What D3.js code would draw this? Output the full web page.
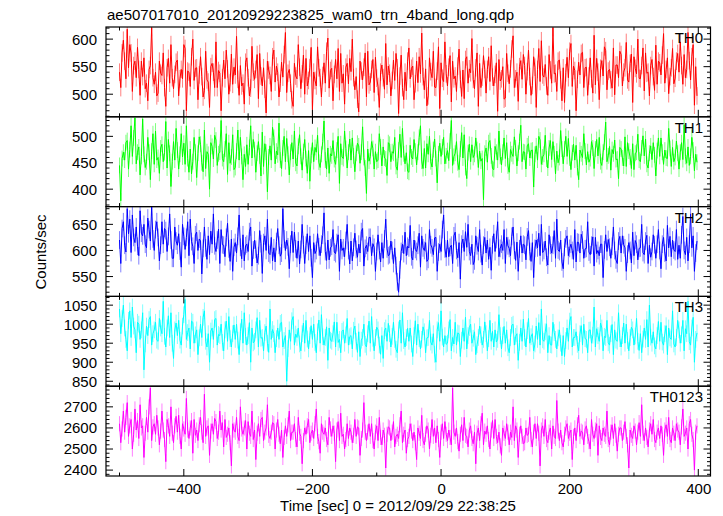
<!DOCTYPE html>
<html><head><meta charset="utf-8">
<script src="https://cdn.jsdelivr.net/npm/d3@7"></script>
<style>body{margin:0;background:#fff}</style>
</head><body>
<script>
const title = "ae507017010_20120929223825_wam0_trn_4band_long.qdp";
const xLabel = "Time [sec] 0 = 2012/09/29 22:38:25";
const yLabel = "Counts/sec";
const seriesNames = ["TH0", "TH1", "TH2", "TH3", "TH0123"];
const seriesColors = ["#ff0000", "#00ff00", "#0000ff", "#00ffff", "#ff00ff"];
const timeStart = -500, timeBin = 2;

const th0 = [540,512,575,598,560,528,618,548,590,575,505,552,560,530,585,
545,498,560,532,566,510,520,488,545,552,621,530,518,540,497,
502,560,538,534,575,512,478,548,565,520,590,530,510,536,558,
562,497,528,545,528,590,583,470,542,540,514,568,600,525,547,
548,490,535,568,532,495,507,578,526,522,476,550,556,540,512,
595,512,543,538,470,530,562,528,580,546,500,521,573,518,549,
535,605,527,498,552,515,520,482,558,566,530,497,511,587,540,
527,545,572,492,574,533,515,548,509,466,560,544,534,505,568,
580,522,551,540,495,520,558,531,572,612,503,538,545,520,490,
478,556,533,528,590,549,510,537,571,500,565,515,525,548,585,
472,540,525,515,586,548,530,495,534,557,520,578,602,511,543,
547,488,536,563,528,583,505,574,520,537,482,549,556,519,565,
541,600,530,508,532,491,468,560,542,526,549,575,495,578,517,
522,545,563,503,567,529,514,476,540,553,530,509,592,517,551,
538,497,525,562,525,574,548,465,533,571,512,490,540,506,560,
584,528,547,551,490,519,560,521,568,537,611,532,508,546,479,
497,566,541,530,578,513,512,542,586,474,557,529,523,595,537,
515,549,570,486,560,528,533,505,551,582,527,496,544,492,563,
568,520,546,539,601,527,510,548,575,478,556,512,531,570,545,
502,545,568,523,588,531,515,536,557,469,563,524,528,550,491,
493,574,538,519,546,582,606,512,528,540,487,550,561,527,572,
552,500,541,580,532,498,516,568,549,476,545,583,523,597,535,
531,554,515,498,572,544,520,621,537,538,505,560,562,526,488,
548,485,539,567,530,578,592,514,551,543,470,527,558,535,574,
576,512,548,549,498,533,566,528,502,607,517,565,540,490,547,
561,533,586,579,508,542,545,526,511,584,499,553,553,530,578,
572,515,540,548,594,526,522,556,573,485,568,547,537,600,529,
528,552,584,506,575,538,540,497,552,563,532,507,589,518,560,
557,535,571,610,520,545,566,501,532,548,583,519,529,560,574,
540,595,552,518,572,530,545,612,561,526,568,590,480,550,497];

const th1 = [445,378,458,470,455,488,492,438,475,520,462,497,535,448,470,
480,427,462,533,466,441,452,498,470,418,472,505,447,510,455,
460,430,478,485,452,469,528,440,494,468,405,452,490,455,515,
474,438,466,505,461,487,447,520,458,432,476,429,452,498,470,
422,468,499,485,450,433,512,439,471,466,400,488,481,457,502,
493,445,467,470,530,458,452,476,505,428,488,449,461,503,437,
441,472,512,455,498,462,418,466,443,484,447,479,520,459,494,
475,432,468,490,463,425,508,443,486,470,395,461,482,455,517,
498,448,472,465,525,455,439,478,500,452,496,466,427,470,488,
457,510,449,444,481,503,462,436,471,494,458,430,473,415,464,
488,452,479,470,502,451,441,466,490,529,455,438,478,430,467,
463,492,456,447,474,500,411,486,461,458,510,477,440,470,495,
455,497,463,433,468,487,482,449,470,518,460,440,392,476,453,
462,490,477,438,471,452,455,505,480,444,480,459,457,426,488,
485,452,471,468,498,443,436,474,504,460,515,467,448,469,434,
432,483,461,457,494,472,446,470,498,520,453,439,477,440,486,
466,500,452,442,475,495,458,412,467,487,462,480,498,448,463,
473,454,491,530,445,462,468,490,450,437,476,507,459,503,441,
420,469,485,452,484,460,466,497,475,441,472,453,458,380,468,
478,451,488,492,463,439,437,481,470,455,510,462,446,470,497,
458,488,444,432,475,467,462,499,478,444,468,490,521,452,471,
470,438,482,486,459,473,474,404,466,482,455,500,493,447,461,
466,502,457,440,478,492,456,490,467,429,472,450,460,511,476,
448,476,500,462,496,459,437,469,485,455,483,441,418,474,467,
460,505,472,446,471,451,458,490,478,439,476,494,463,498,452,
445,470,489,527,452,463,481,436,475,467,493,456,457,420,479,
476,459,444,499,443,488,472,461,439,486,437,468,470,504,455,
452,478,501,463,495,447,440,468,482,456,488,465,425,473,497,
462,497,470,447,474,459,458,515,477,443,479,452,460,491,468,
438,470,488,456,522,462,449,480,445,462,498,474,435,466,451];

const th2 = [620,575,642,655,610,597,680,632,660,596,668,625,615,645,608,
590,676,633,628,650,612,605,662,640,618,684,622,600,640,655,
625,580,610,655,612,642,638,598,627,670,620,585,585,645,618,
610,632,599,568,650,627,602,625,655,590,660,617,608,575,630,
635,600,622,618,555,604,645,605,583,628,592,637,612,670,609,
598,620,641,575,640,611,610,588,625,652,603,579,622,560,606,
615,595,627,668,606,584,630,580,609,612,598,636,645,570,601,
620,602,576,590,638,613,556,615,628,600,660,595,592,625,580,
605,578,617,642,610,589,595,680,622,600,620,607,565,612,637,
596,635,603,585,618,574,602,650,611,575,610,632,598,628,586,
548,615,594,600,632,607,590,612,629,672,598,581,620,582,605,
608,640,597,594,615,630,560,622,600,605,588,619,650,600,574,
618,580,606,633,602,587,612,595,636,642,570,604,610,598,625,
625,590,613,606,560,598,630,600,578,615,585,622,660,603,590,
592,618,600,575,605,571,540,520,563,598,612,594,635,590,608,
605,648,588,582,620,602,598,610,633,568,628,605,600,615,579,
583,640,611,605,592,624,625,560,597,612,598,640,668,603,587,
620,588,606,610,575,628,635,600,586,615,545,612,622,598,636,
606,650,598,590,612,573,580,628,609,598,640,594,572,610,625,
595,620,583,606,562,611,632,598,621,655,588,604,612,600,640,
575,625,609,604,590,627,645,600,581,616,560,603,628,595,612,
610,582,626,638,598,579,615,548,604,620,605,633,590,650,596,
600,618,587,572,630,610,595,610,638,585,660,601,598,620,578,
565,606,622,628,590,604,612,600,583,640,578,616,615,595,631,
620,585,603,604,655,597,592,610,626,570,625,594,600,590,612,
612,548,601,630,598,621,606,585,608,645,600,582,575,618,627,
595,628,611,605,560,593,615,600,576,635,590,619,612,582,604,
605,650,596,592,618,629,575,610,587,598,630,611,585,612,640,
600,565,612,625,595,580,648,605,627,588,620,601,598,640,583,
610,585,630,665,600,592,625,580,612,670,605,628,560,595,618];

const th3 = [1040,975,1015,1050,990,960,930,1010,1035,965,1045,995,985,925,1005,
1000,960,985,1030,880,948,995,970,1012,1020,945,975,985,1005,958,
955,1015,990,975,1060,968,940,990,1022,965,1030,950,910,985,1003,
970,1010,958,945,995,1025,1065,960,978,990,935,1008,1005,950,972,
985,920,964,1000,965,1018,1035,955,940,975,900,982,990,960,1012,
1015,945,973,970,1000,952,930,985,1008,955,1020,962,940,975,998,
960,1000,958,920,980,1013,950,1030,968,945,970,1004,900,990,951,
955,985,1017,940,1010,963,965,930,978,995,950,926,1040,960,986,
975,925,962,990,960,1002,1005,940,957,970,850,936,985,955,1009,
1020,945,974,965,990,948,930,975,1003,950,1010,961,935,970,996,
960,1000,952,925,980,1011,950,1025,967,945,965,993,905,990,958,
955,975,1006,940,1005,952,960,925,981,985,950,972,1015,945,967,
970,935,984,995,955,926,980,915,958,965,1000,947,940,975,1008,
950,1020,963,930,965,992,985,945,921,970,910,983,990,955,1002,
975,940,968,1005,960,934,925,985,1011,950,1030,957,940,965,989,
955,990,948,915,970,1009,945,1000,962,935,960,993,980,925,964,
965,1010,953,945,975,921,900,985,1004,955,1035,966,940,970,947,
950,985,1012,930,965,948,1005,945,977,975,915,958,990,955,1018,
935,970,991,1000,950,963,980,920,946,965,995,972,945,960,1006,
975,930,962,1010,955,981,940,985,953,960,1025,970,935,970,994,
950,985,938,925,965,997,1000,945,968,975,905,952,990,955,1013,
965,940,983,1015,950,967,975,930,948,995,960,1004,945,1040,959,
955,980,1001,925,970,946,945,1005,978,960,935,964,985,950,917,
970,915,957,990,955,1008,1020,940,965,965,980,947,930,975,996,
945,1000,962,960,925,984,985,950,971,1045,940,988,970,955,1003,
990,930,968,965,1010,951,945,975,999,920,985,958,955,1030,962,
940,970,1003,950,1000,957,930,965,992,985,945,969,1015,955,931,
975,925,961,990,960,1012,940,1050,966,950,980,943,935,970,1007,
955,1005,953,945,975,996,920,990,964,960,1035,948,940,965,1010,
985,950,972,1010,930,988,975,1060,954,945,990,1018,900,960,977];

const th0123 = [2620,2530,2595,2680,2580,2650,2720,2560,2610,2640,2500,2570,2690,2590,2635,
2550,2710,2600,2610,2460,2575,2650,2580,2700,2790,2540,2605,2620,2570,2660,
2600,2520,2585,2680,2590,2545,2440,2640,2610,2560,2700,2575,2530,2610,2655,
2580,2660,2560,2500,2620,2595,2570,2740,2590,2550,2600,2635,2480,2640,2565,
2590,2540,2615,2650,2580,2530,2760,2560,2600,2610,2470,2585,2620,2570,2645,
2630,2550,2580,2680,2590,2625,2510,2640,2555,2570,2600,2530,2420,2620,2590,
2580,2650,2560,2540,2700,2595,2570,2600,2635,2500,2630,2575,2560,2680,2545,
2590,2450,2575,2620,2560,2640,2650,2540,2580,2600,2710,2565,2550,2580,2625,
2620,2500,2590,2640,2570,2525,2590,2460,2555,2610,2560,2615,2680,2540,2580,
2580,2620,2545,2510,2650,2575,2560,2430,2540,2600,2570,2610,2640,2530,2575,
2590,2550,2620,2690,2560,2535,2480,2620,2580,2570,2600,2545,2520,2650,2595,
2560,2610,2575,2440,2590,2630,2540,2670,2560,2570,2500,2545,2620,2550,2600,
2580,2530,2565,2640,2560,2605,2600,2470,2550,2590,2720,2580,2540,2580,2620,
2560,2620,2540,2500,2580,2610,2540,2650,2555,2520,2590,2565,2410,2570,2605,
2600,2540,2580,2630,2510,2560,2570,2550,2615,2680,2530,2570,2590,2480,2545,
2560,2620,2585,2540,2580,2530,2450,2600,2575,2550,2660,2540,2520,2570,2610,
2590,2500,2565,2640,2560,2600,2530,2610,2545,2460,2580,2620,2550,2630,2570,
2540,2590,2555,2520,2790,2580,2560,2600,2535,2490,2570,2615,2540,2650,2565,
2560,2510,2590,2610,2550,2525,2580,2430,2575,2600,2540,2620,2670,2520,2585,
2570,2610,2545,2500,2590,2635,2550,2640,2560,2530,2580,2515,2470,2600,2575,
2550,2620,2580,2520,2580,2555,2700,2540,2610,2590,2460,2570,2610,2560,2525,
2530,2600,2565,2570,2650,2545,2510,2580,2620,2550,2620,2575,2420,2590,2610,
2560,2640,2545,2530,2580,2600,2500,2610,2560,2550,2730,2585,2540,2590,2530,
2510,2570,2600,2620,2550,2575,2590,2450,2560,2600,2540,2615,2660,2560,2585,
2580,2520,2595,2610,2560,2535,2500,2640,2570,2550,2590,2620,2470,2610,2555,
2540,2600,2570,2560,2680,2545,2520,2580,2615,2550,2620,2565,2490,2570,2600,
2600,2540,2580,2630,2560,2520,2410,2590,2565,2550,2610,2585,2520,2580,2625,
2560,2710,2575,2540,2600,2555,2510,2590,2620,2570,2640,2545,2530,2580,2600,
2550,2610,2570,2470,2590,2615,2560,2650,2545,2530,2600,2575,2540,2620,2590,
2580,2520,2605,2690,2560,2575,2600,2500,2620,2640,2570,2545,2400,2580,2610];

const seriesErrors = [16, 15, 17, 22, 36];
const yDomains = [[459, 622], [367, 537], [512, 684], [837, 1073], [2372, 2798]];
const yMajorTicks = [[500, 550, 600], [400, 450, 500], [550, 600, 650], [850, 900, 950, 1000, 1050], [2400, 2500, 2600, 2700]];
const yMinorStep = [10, 10, 10, 10, 20];
const xDomain = [-521, 419];
const xMajorTicks = [-400, -200, 0, 200, 400];
const xMinorTicks = [-500, -300, -100, 100, 300];

const allSeries = [th0, th1, th2, th3, th0123];

(function () {
const W = 723, H = 516;
const mLeft = 106, mRight = 710.5, mTop = 27, mBottom = 476;
const nP = 5, pH = (mBottom - mTop) / nP;
const FONT = "'Liberation Sans', Arial, Helvetica, sans-serif";

const svg = d3.select("body").append("svg").attr("width", W).attr("height", H)
  .style("font-family", FONT);

const x = d3.scaleLinear().domain(xDomain).range([mLeft, mRight]);

svg.append("text").attr("x", 107).attr("y", 20).attr("font-size", 15).text(title);

allSeries.forEach((vals, p) => {
  const y0 = mTop + p * pH, y1 = y0 + pH;
  const y = d3.scaleLinear().domain(yDomains[p]).range([y1, y0]);
  const g = svg.append("g");
  const cid = "clip" + p;
  svg.append("clipPath").attr("id", cid).append("rect")
    .attr("x", mLeft).attr("y", y0).attr("width", mRight - mLeft).attr("height", pH);
  const data = vals.map((v, i) => ({t: timeStart + i * timeBin, v}));
  const err = seriesErrors[p];
  const col = seriesColors[p];
  const dg = g.append("g").attr("clip-path", `url(#${cid})`);
  dg.selectAll("line.err").data(data).join("line").attr("class", "err")
    .attr("x1", d => x(d.t)).attr("x2", d => x(d.t))
    .attr("y1", d => y(d.v - err)).attr("y2", d => y(d.v + err))
    .attr("stroke", col).attr("stroke-opacity", 0.5).attr("stroke-width", 1);
  dg.append("path").datum(data)
    .attr("d", d3.line().x(d => x(d.t)).y(d => y(d.v)))
    .attr("fill", "none").attr("stroke", col).attr("stroke-width", 1);

  g.append("rect").attr("x", mLeft).attr("y", y0).attr("width", mRight - mLeft).attr("height", pH)
    .attr("fill", "none").attr("stroke", "#000").attr("stroke-width", 1.2);

  const minor = d3.range(Math.ceil(yDomains[p][0] / yMinorStep[p]) * yMinorStep[p], yDomains[p][1], yMinorStep[p]);
  const tg = g.append("g").attr("stroke", "#000").attr("stroke-width", 1);
  minor.forEach(v => {
    const major = yMajorTicks[p].includes(v);
    const L = major ? 7 : 3.5;
    tg.append("line").attr("x1", mLeft).attr("x2", mLeft + L).attr("y1", y(v)).attr("y2", y(v));
    tg.append("line").attr("x1", mRight).attr("x2", mRight - L).attr("y1", y(v)).attr("y2", y(v));
  });
  yMajorTicks[p].forEach(v => {
    g.append("text").attr("x", 97).attr("y", y(v)).attr("dy", "0.36em")
      .attr("text-anchor", "end").attr("font-size", 15).text(v);
  });
  xMajorTicks.concat(xMinorTicks).forEach(t => {
    const L = xMajorTicks.includes(t) ? 7 : 3.5;
    tg.append("line").attr("x1", x(t)).attr("x2", x(t)).attr("y1", y1).attr("y2", y1 - L);
    tg.append("line").attr("x1", x(t)).attr("x2", x(t)).attr("y1", y0).attr("y2", y0 + L);
  });
  g.append("text").attr("x", 703).attr("y", y0 + 16).attr("text-anchor", "end")
    .attr("font-size", 15).text(seriesNames[p]);
});

const xAxis = d3.axisBottom(x).tickValues(xMajorTicks).tickSize(0).tickPadding(0)
  .tickFormat(d => d < 0 ? "\u2212" + Math.abs(d) : String(d));
const xa = svg.append("g").attr("transform", `translate(0,${mBottom})`).call(xAxis);
xa.select(".domain").remove();
xa.selectAll("text").attr("font-size", 15).attr("font-family", FONT).attr("fill", "#000")
  .attr("dy", null).attr("y", 18);

svg.append("text").attr("x", 398).attr("y", 511).attr("text-anchor", "middle")
  .attr("font-size", 15).text(xLabel);
svg.append("text").attr("transform", "translate(46,252) rotate(-90)")
  .attr("text-anchor", "middle").attr("font-size", 15).text(yLabel);
})();
</script>
</body></html>
